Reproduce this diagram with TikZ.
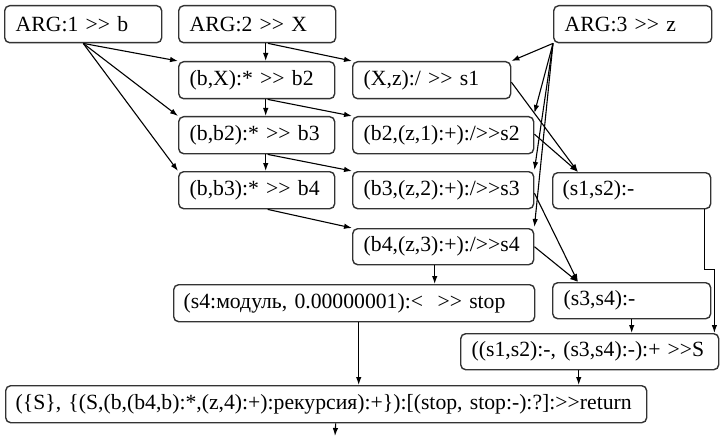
\documentclass[tikz,border=0pt]{standalone}
\usepackage{fontspec}
\newfontfamily\lib{Liberation Serif}
\usetikzlibrary{arrows.meta,calc}
\begin{document}
\frenchspacing
\begin{tikzpicture}[x=1pt,y=-1pt,
  box/.style={draw=black!80, line width=1.4pt, rounded corners=5pt, anchor=north west,
    align=left, inner xsep=11pt, inner ysep=0pt, minimum height=37pt,
    font=\lib\fontsize{21.7}{24}\selectfont},
  arr/.style={draw=black, line width=1.1pt, -{Latex[length=8pt,width=5.5pt]}}]
\useasboundingbox (0,0) rectangle (721,436);
% nodes
\node[box, text width=135pt] (a1) at (4,5) {ARG:1 >> b};
\node[box, text width=135pt] (a2) at (178,5) {ARG:2 >> X};
\node[box, text width=136pt] (a3) at (553,5) {ARG:3 >> z};
\node[box, text width=134pt] (b2) at (178,61) {(b,X):* >> b2};
\node[box, text width=134pt] (b3) at (178,116) {(b,b2):* >> b3};
\node[box, text width=134pt] (b4) at (178,171) {(b,b3):* >> b4};
\node[box, text width=136pt] (s1) at (352,61) {(X,z):/ >> s1};
\node[box, text width=159pt] (s2) at (352,116) {(b2,(z,1):+):/>>s2};
\node[box, text width=159pt] (s3) at (352,171) {(b3,(z,2):+):/>>s3};
\node[box, text width=159pt, minimum height=36pt] (s4) at (352,228) {(b4,(z,3):+):/>>s4};
\node[box, text width=138pt, inner xsep=10pt, minimum height=36pt] (d12) at (552,172) {(s1,s2):-};
\node[box, text width=136pt, minimum height=36pt] (d34) at (552,282) {(s3,s4):-};
\node[box, text width=341pt, inner xsep=10pt] (stop) at (173,284) {(s4:модуль, 0.00000001):<\ \ >> stop};
\node[box, text width=236pt, minimum height=36pt] (sum) at (460,333) {((s1,s2):-, (s3,s4):-):+ >>S};
\node[box, text width=621pt, inner xsep=10pt] (ret) at (5,385) {(\{S\}, \{(S,(b,(b4,b):*,(z,4):+):рекурсия):+\}):[(stop, stop:-):?]:>>return};
\coordinate (out) at (335,436);
% connectors from ARG:1
\draw[arr] (a1.south) -- (b2.north west);
\draw[arr] (a1.south) -- (b3.north west);
\draw[arr] (a1.south) -- (b4.north west);
% column b
\draw[arr] ([xshift=8.5pt]a2.south) -- ([xshift=9pt]b2.north);
\draw[arr] ([xshift=11pt]a2.south) -- (s1.north west);
\draw[arr] ([xshift=9pt]b2.south) -- ([xshift=9pt]b3.north);
\draw[arr] ([xshift=11pt]b2.south) -- (s2.north west);
\draw[arr] ([xshift=9pt]b3.south) -- ([xshift=9pt]b4.north);
\draw[arr] ([xshift=11pt]b3.south) -- (s3.north west);
\draw[arr] ([xshift=11pt]b4.south) -- (s4.north west);
% from ARG:3
\draw[arr] (a3.south west) -- (s1.north east);
\draw[arr] (a3.south west) -- ([yshift=3pt]s2.north east);
\draw[arr] (a3.south west) -- ([yshift=1pt]s3.north east);
\draw[arr] (a3.south west) -- ([yshift=1pt]s4.north east);
% to differences
\draw[arr] ([yshift=-2pt]s1.east) -- ([xshift=26pt]d12.north west);
\draw[arr] ([yshift=1pt]s2.east) -- ([xshift=26pt]d12.north west);
\draw[arr] ([yshift=-3pt]s3.east) -- ([xshift=26pt]d34.north west);
\draw[arr] (s4.east) -- ([xshift=26pt]d34.north west);
% lower part
\draw[arr] ([xshift=-7pt]d12.south east) -- ++(0,60) -| ([xshift=-5pt]sum.north east);
\draw[arr] (d34.south) -- (d34.south |- sum.north);
\draw[arr] ([xshift=-8.5pt]s4.south) -- ([xshift=-8.5pt]s4.south |- stop.north);
\draw[arr] ([xshift=4.5pt]stop.south) -- ([xshift=4.5pt]stop.south |- ret.north);
\draw[arr] ([xshift=-11pt]sum.south) -- ([xshift=-11pt]sum.south |- ret.north);
\draw[arr] ([xshift=9.5pt]ret.south) -- (out);
\end{tikzpicture}
\end{document}
